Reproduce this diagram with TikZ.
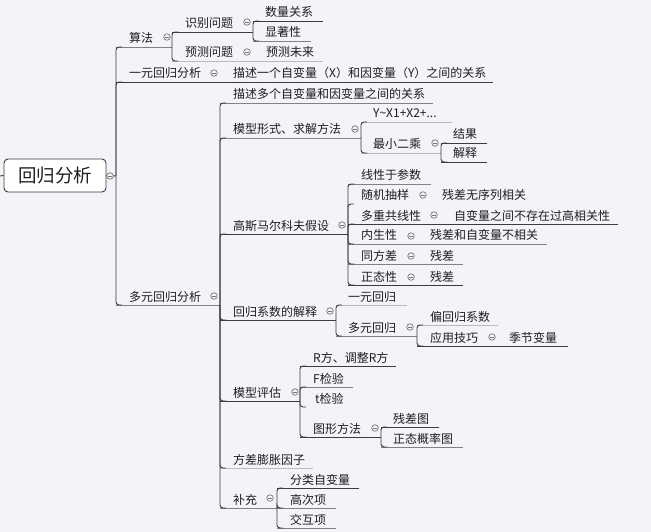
\documentclass[tikz,border=0pt]{standalone}
\usepackage{fontspec}
\setmainfont{Noto Sans CJK SC}
\definecolor{bgc}{RGB}{243,243,249}
\definecolor{dk}{RGB}{60,60,60}
\definecolor{md}{RGB}{130,130,130}
\definecolor{lt}{RGB}{185,185,190}
\definecolor{inv}{RGB}{243,243,249}
\definecolor{txtc}{RGB}{30,30,30}
\definecolor{foldc}{RGB}{120,120,120}
\tikzset{
  txt/.style={inner sep=0pt, font=\fontsize{12}{14}\selectfont, text=txtc},
  ul/.style={line width=0.9pt},
  conn/.style={draw=dk, line width=0.9pt, rounded corners=3pt},
  fold/.style={circle, draw=foldc, line width=0.7pt, minimum size=6.5pt, inner sep=0pt, fill=bgc,
    path picture={\draw[foldc, line width=0.6pt] ([xshift=-1.6pt]path picture bounding box.center) -- ([xshift=1.6pt]path picture bounding box.center);}},
  rootbox/.style={draw=dk, fill=white, rounded corners=4pt, line width=0.9pt, minimum width=102pt, minimum height=33pt, inner sep=0pt, font=\fontsize{18.5}{20}\selectfont, text=txtc}
}
\newcommand\topic[7]{%
  \node[txt, anchor=base west] (#1) at (#2,#3-4) {#6};
  \coordinate (#1-l) at (#4,#3);
  \coordinate (#1-r) at (#5,#3);
  \draw[ul, draw=#7] (#1-l) -- (#1-r);
}
\newcommand\leaf[4]{\node[txt, anchor=base west] (#1) at (#2,#3-4) {#4};}
\newcommand\fold[3]{\node[fold] (f-#1) at (#2,#3) {};}
\newcommand\conn[2]{\draw[conn] (#1-r) |- ([xshift=6pt]#2-l);}
\begin{document}
\begin{tikzpicture}[x=1pt,y=-1pt]
\fill[bgc] (0,0) rectangle (651,532);
\useasboundingbox (0,0) rectangle (651,532);

% root
\node[rootbox] (root) at (55,175.5) {回归分析};
\coordinate (root-r) at (116,176);
\coordinate (stub) at (0,176);
\draw[conn] (stub) -- (root.west);
\draw[conn] (root.east) -- (root-r);

% level 1
\topic{suanfa}{129}{47}{116}{172}{算法}{md}
\topic{yiyuan}{129}{82}{116}{493}{一元回归分析}{dk}
\leaf{yiyuanc}{233}{82}{描述一个自变量（X）和因变量（Y）之间的关系}
\topic{duoyuan}{129}{305}{116}{220}{多元回归分析}{md}

% suanfa
\topic{shibie}{185}{32}{172}{253}{识别问题}{dk}
\topic{shuliang}{265}{21}{253}{323}{数量关系}{dk}
\topic{xianzhu}{265}{41}{253}{311}{显著性}{md}
\topic{yuce}{185}{61}{172}{323}{预测问题}{lt}
\leaf{yucec}{266}{61}{预测未来}

% duoyuan
\topic{miaoshu}{233}{103}{220}{433}{描述多个自变量和因变量之间的关系}{md}
\topic{moxing}{233}{138}{220}{361}{模型形式、求解方法}{md}
\topic{yx}{373}{122}{361}{452}{Y\textasciitilde X1+X2+...}{lt}
\topic{zxec}{373}{153}{361}{441}{最小二乘}{lt}
\topic{jieguo}{453}{143}{441}{487}{结果}{dk}
\topic{jieshi}{453}{162}{441}{487}{解释}{dk}
\topic{gaosi}{233}{234}{220}{348}{高斯马尔科夫假设}{dk}
\topic{xxcs}{361}{184}{348}{431}{线性于参数}{md}
\topic{sjcy}{361}{204}{348}{535}{随机抽样}{inv}
\leaf{sjcyc}{442}{204}{残差无序列相关}
\topic{dcgx}{361}{224}{348}{618}{多重共线性}{dk}
\leaf{dcgxc}{454}{224}{自变量之间不存在过高相关性}
\topic{nsx}{361}{244}{348}{547}{内生性}{md}
\leaf{nsxc}{430}{244}{残差和自变量不相关}
\topic{tfc}{361}{264}{348}{463}{同方差}{md}
\leaf{tfcc}{430}{264}{残差}
\topic{ztx}{361}{285}{348}{463}{正态性}{dk}
\leaf{ztxc}{430}{285}{残差}
\topic{hgxs}{233}{320}{220}{336}{回归系数的解释}{dk}
\topic{yyhg}{348}{305}{336}{407}{一元回归}{lt}
\topic{dyhg}{348}{336}{336}{417}{多元回归}{md}
\topic{phgxs}{430}{325}{417}{498}{偏回归系数}{lt}
\topic{yyjq}{430}{346}{417}{568}{应用技巧}{dk}
\leaf{yyjqc}{509}{346}{季节变量}
\topic{mxpg}{233}{401}{220}{300}{模型评估}{dk}
\topic{rf}{313}{366}{300}{396}{R方、调整R方}{dk}
\topic{fjy}{313}{387}{300}{353}{F检验}{md}
\topic{tjy}{315}{407}{300}{353}{t检验}{inv}
\topic{txff}{313}{437}{300}{381}{图形方法}{dk}
\topic{ccf}{393}{427}{381}{439}{残差图}{dk}
\topic{ztgl}{393}{447}{381}{463}{正态概率图}{md}
\topic{fcpz}{233}{468}{220}{313}{方差膨胀因子}{lt}
\topic{buchong}{233}{508}{220}{277}{补充}{md}
\topic{flzbl}{290}{488}{277}{359}{分类自变量}{dk}
\topic{gcx}{290}{508}{277}{336}{高次项}{md}
\topic{jhx}{290}{528}{277}{336}{交互项}{md}

% connectors
\conn{root}{suanfa}
\conn{root}{yiyuan}
\conn{root}{duoyuan}
\conn{suanfa}{shibie}
\conn{suanfa}{yuce}
\conn{shibie}{shuliang}
\conn{shibie}{xianzhu}
\conn{duoyuan}{miaoshu}
\conn{duoyuan}{moxing}
\conn{duoyuan}{gaosi}
\conn{duoyuan}{hgxs}
\conn{duoyuan}{mxpg}
\conn{duoyuan}{fcpz}
\conn{duoyuan}{buchong}
\conn{moxing}{yx}
\conn{moxing}{zxec}
\conn{zxec}{jieguo}
\conn{zxec}{jieshi}
\conn{gaosi}{xxcs}
\conn{gaosi}{sjcy}
\conn{gaosi}{dcgx}
\conn{gaosi}{nsx}
\conn{gaosi}{tfc}
\conn{gaosi}{ztx}
\conn{hgxs}{yyhg}
\conn{hgxs}{dyhg}
\conn{dyhg}{phgxs}
\conn{dyhg}{yyjq}
\conn{mxpg}{rf}
\conn{mxpg}{fjy}
\conn{mxpg}{tjy}
\conn{mxpg}{txff}
\conn{txff}{ccf}
\conn{txff}{ztgl}
\conn{buchong}{flzbl}
\conn{buchong}{gcx}
\conn{buchong}{jhx}

% fold markers
\fold{root}{110}{176}
\fold{suanfa}{167}{37}
\fold{yiyuan}{214}{73}
\fold{duoyuan}{214}{296}
\fold{shibie}{247}{22}
\fold{yuce}{247}{52}
\fold{moxing}{355}{129}
\fold{zxec}{435}{143}
\fold{gaosi}{342}{225}
\fold{sjcy}{423}{195}
\fold{dcgx}{434}{215}
\fold{nsx}{411}{236}
\fold{tfc}{411}{256}
\fold{ztx}{411}{277}
\fold{hgxs}{330}{311}
\fold{dyhg}{410}{327}
\fold{yyjq}{492}{337}
\fold{mxpg}{295}{392}
\fold{txff}{375}{428}
\fold{buchong}{270}{498}
\end{tikzpicture}
\end{document}
